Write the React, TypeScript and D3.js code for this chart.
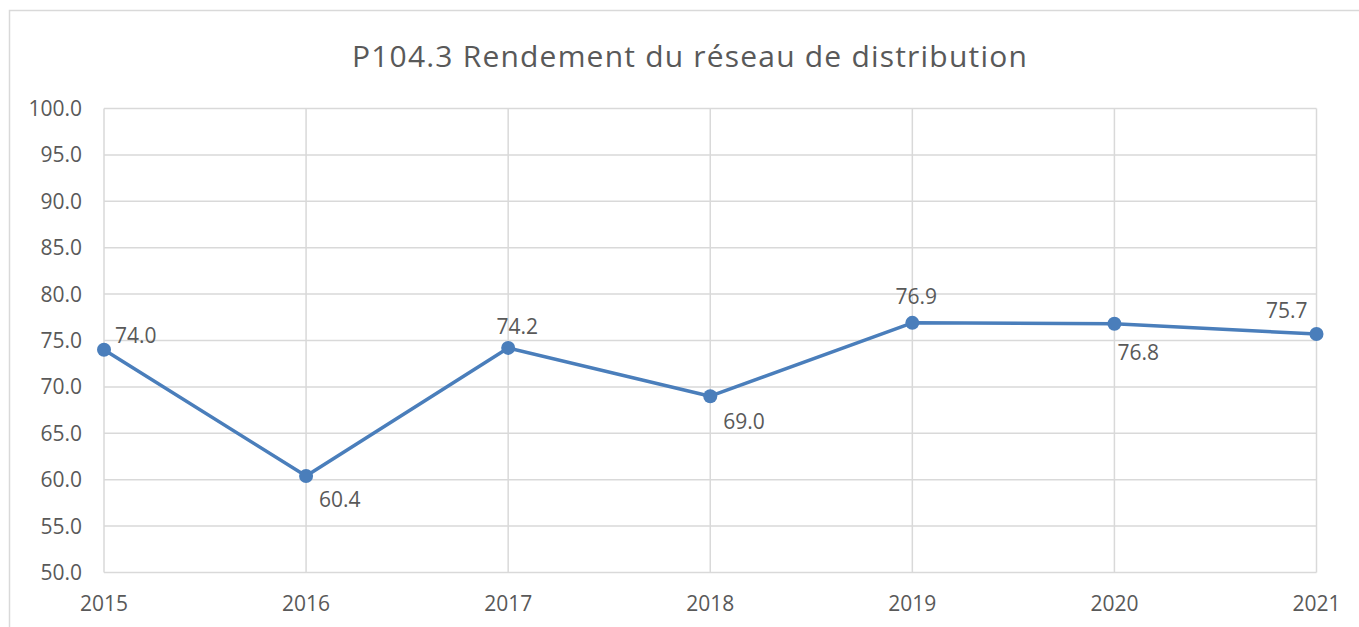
import React from "react";
import * as d3 from "d3";

const title = "P104.3 Rendement du réseau de distribution";
const years = ["2015", "2016", "2017", "2018", "2019", "2020", "2021"];
const values = [74.0, 60.4, 74.2, 69.0, 76.9, 76.8, 75.7];
const yTicks = [50, 55, 60, 65, 70, 75, 80, 85, 90, 95, 100];
// label placement relative to the point (dx, dy to baseline, anchor)
const labelPlacement: [number, number, string][] = [
  [11, -7, "start"],
  [13, 31, "start"],
  [9, -14, "middle"],
  [13, 33, "start"],
  [4, -19, "middle"],
  [3, 36, "start"],
  [-9, -16, "end"],
];

const W = 1359;
const H = 627;
const left = 104;
const right = 1316.5;
const top = 108.5;
const bottom = 572.5;
const font = "'Open Sans', 'DejaVu Sans', sans-serif";
const textColor = "#595959";
const gridColor = "#d9d9d9";
const lineColor = "#4a7ebb";

export default function App() {
  const x = d3.scalePoint<string>().domain(years).range([left, right]);
  const y = d3.scaleLinear().domain([50, 100]).range([bottom, top]);
  const line = d3
    .line<number>()
    .x((_, i) => x(years[i]) as number)
    .y((d) => y(d));

  return (
    <svg
      width={W}
      height={H}
      style={{ position: "absolute", left: 0, top: 0, display: "block", background: "#fff" }}
    >
      <rect x={0} y={0} width={W} height={H} fill="#fff" />
      {/* outer frame */}
      <path d={`M9.5,${H} V10.5 H${W}`} fill="none" stroke="#d9d9d9" strokeWidth={1.5} />
      <text
        x={690}
        y={67}
        textAnchor="middle"
        fontFamily={font}
        fontSize={30}
        letterSpacing={1.2}
        fill={textColor}
      >
        {title}
      </text>
      {/* horizontal gridlines */}
      {yTicks.map((t) => (
        <line
          key={"h" + t}
          x1={left}
          x2={right}
          y1={y(t)}
          y2={y(t)}
          stroke={gridColor}
          strokeWidth={1.5}
        />
      ))}
      {/* vertical gridlines */}
      {years.map((yr) => (
        <line
          key={"v" + yr}
          x1={x(yr)}
          x2={x(yr)}
          y1={top}
          y2={bottom}
          stroke={gridColor}
          strokeWidth={1.5}
        />
      ))}
      {/* y tick labels */}
      {yTicks.map((t) => (
        <text
          key={"yl" + t}
          x={82}
          y={y(t) + 7.5}
          textAnchor="end"
          fontFamily={font}
          fontSize={21}
          fill={textColor}
        >
          {t.toFixed(1)}
        </text>
      ))}
      {/* x tick labels */}
      {years.map((yr) => (
        <text
          key={"xl" + yr}
          x={x(yr)}
          y={611}
          textAnchor="middle"
          fontFamily={font}
          fontSize={21}
          fill={textColor}
        >
          {yr}
        </text>
      ))}
      <path
        d={line(values) || ""}
        fill="none"
        stroke={lineColor}
        strokeWidth={3.5}
        strokeLinejoin="round"
      />
      {values.map((v, i) => (
        <circle key={"c" + i} cx={x(years[i])} cy={y(v)} r={7} fill={lineColor} />
      ))}
      {values.map((v, i) => {
        const [dx, dy, anchor] = labelPlacement[i];
        return (
          <text
            key={"dl" + i}
            x={(x(years[i]) as number) + dx}
            y={y(v) + dy}
            textAnchor={anchor as any}
            fontFamily={font}
            fontSize={21}
            fill={textColor}
          >
            {v.toFixed(1)}
          </text>
        );
      })}
    </svg>
  );
}
